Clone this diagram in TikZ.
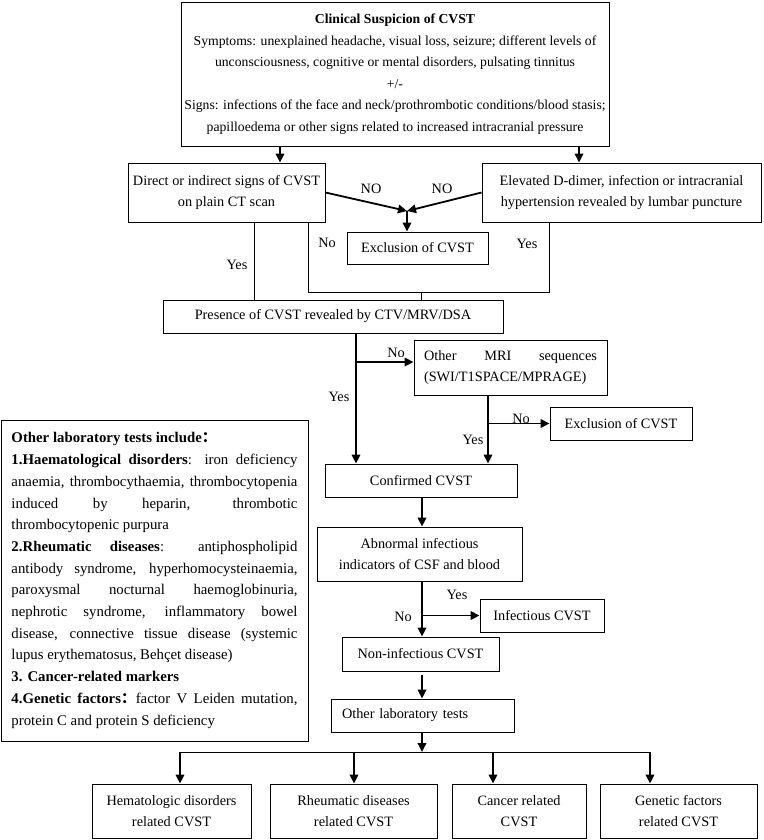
\documentclass[tikz,border=0pt]{standalone}
\usepackage{fontspec}
\setmainfont{Liberation Serif}
\newfontfamily\cjkfont{Noto Sans CJK SC}
\usetikzlibrary{arrows.meta}
\begin{document}
\begin{tikzpicture}[x=1pt,y=-1pt,
  box/.style={draw=black, line width=0.9pt, inner sep=0pt, align=center,
    font=\fontsize{14.3}{21.5}\selectfont},
  thinline/.style={line width=0.9pt},
  arr/.style={line width=1.8pt, -{Triangle[length=9pt,width=8.5pt]}},
  lbl/.style={font=\fontsize{14.3}{16}\selectfont, inner sep=0pt}]
\useasboundingbox (0,0) rectangle (763,840);
\fill[white] (0,0) rectangle (763,840);

% boxes
\node[box, minimum width=428pt, minimum height=144pt, font=\fontsize{13.7}{21.5}\selectfont] (top) at (395,74)
 {\textbf{Clinical Suspicion of CVST}\\
  Symptoms: unexplained headache, visual loss, seizure; different levels of\\
  unconsciousness, cognitive or mental disorders, pulsating tinnitus\\
  +/-\\
  Signs: infections of the face and neck/prothrombotic conditions/blood stasis;\\
  papilloedema or other signs related to increased intracranial pressure};
\node[box, minimum width=197pt, minimum height=59pt] (ct) at (226.5,192.5)
 {Direct or indirect signs of CVST\\on plain CT scan};
\node[box, minimum width=279pt, minimum height=59pt] (dd) at (621.5,192.5)
 {Elevated D-dimer, infection or intracranial\\hypertension revealed by lumbar puncture};
\node[box, minimum width=141pt, minimum height=32pt] (ex1) at (417.5,248) {Exclusion of CVST};
\node[box, minimum width=340pt, minimum height=33pt] (pres) at (333,316.5) {Presence of CVST revealed by CTV/MRV/DSA};
\node[box, minimum width=193pt, minimum height=55pt, text width=173pt, align=justify] (mri) at (510.5,367.5)
 {Other MRI sequences\linebreak (SWI/T1SPACE/MPRAGE)};
\node[box, minimum width=142pt, minimum height=33pt] (ex2) at (621,423.5) {Exclusion of CVST};
\node[box, minimum width=192pt, minimum height=33pt] (conf) at (421,480.5) {Confirmed CVST};
\node[box, minimum width=205pt, minimum height=54pt] (abn) at (419.5,554)
 {Abnormal infectious\\indicators of CSF and blood};
\node[box, minimum width=124pt, minimum height=33pt] (inf) at (542,615.5) {Infectious CVST};
\node[box, minimum width=157pt, minimum height=34pt] (noninf) at (420.5,654) {Non-infectious CVST};
\node[box, minimum width=183pt, minimum height=33pt, text width=161pt, inner xsep=11pt, align=left] (other) at (422.5,715.5)
 {Other laboratory tests};
\node[box, minimum width=159pt, minimum height=54pt] (hem) at (171.5,811) {Hematologic disorders\\related CVST};
\node[box, minimum width=167pt, minimum height=54pt] (rheu) at (353.5,811) {Rheumatic diseases\\related CVST};
\node[box, minimum width=134pt, minimum height=54pt] (canc) at (519,811) {Cancer related\\CVST};
\node[box, minimum width=157pt, minimum height=54pt] (gen) at (678.5,811) {Genetic factors\\related CVST};

\node[box, minimum width=307pt, minimum height=321pt, text width=286pt, align=justify,
  font=\fontsize{14.8}{21.7}\selectfont] (lab) at (154.5,580.5)
 {\parindent=0pt\parskip=0pt\emergencystretch=0pt
  \textbf{Other laboratory tests include{\cjkfont ：}}\par
  \textbf{1.Haematological disorders}: iron deficiency\linebreak
  anaemia, thrombocythaemia, thrombocytopenia\linebreak
  induced by heparin, thrombotic\linebreak
  thrombocytopenic purpura\par
  \textbf{2.Rheumatic diseases}: antiphospholipid\linebreak
  antibody syndrome, hyperhomocysteinaemia,\linebreak
  paroxysmal nocturnal haemoglobinuria,\linebreak
  nephrotic syndrome, inflammatory bowel\linebreak
  disease, connective tissue disease (systemic\linebreak
  lupus erythematosus, Behçet disease)\par
  \textbf{3. Cancer-related markers}\par
  \textbf{4.Genetic factors{\cjkfont ：}}factor V Leiden mutation,\linebreak
  protein C and protein S deficiency\par};

% helper coordinates
\coordinate (xL) at (280,0);
\coordinate (xR) at (579,0);
\coordinate (xYes) at (254,0);
\coordinate (xNo) at (308,0);
\coordinate (xYesR) at (549,0);
\coordinate (xMid) at (421,0);
\coordinate (xP) at (356,0);
\coordinate (xM) at (488,0);
\coordinate (xC) at (422,0);
\coordinate (meet) at (407,211);
\coordinate (loopy) at (0,292);
\coordinate (nb1) at (0,362);
\coordinate (bus) at (0,752);
\coordinate (xb1) at (180,0);
\coordinate (xb2) at (354,0);
\coordinate (xb3) at (493,0);
\coordinate (xb4) at (650,0);

% connectors
\draw[arr] (top.south -| xL) -- (ct.north -| xL);
\draw[arr] (top.south -| xR) -- (dd.north -| xR);
\draw[arr] (ct.east) -- (meet);
\draw[arr] (dd.west) -- (meet);
\draw[arr] (meet) -- (ex1.north -| meet);
\draw[thinline] (ct.south -| xYes) -- (pres.north -| xYes);
\draw[thinline] (ct.south -| xNo) -- (xNo |- loopy) -- (xYesR |- loopy) -- (dd.south -| xYesR);
\draw[thinline] (xMid |- loopy) -- (pres.north -| xMid);
\draw[arr] (pres.south -| xP) -- (conf.north -| xP);
\draw[arr] (xP |- nb1) -- (mri.west |- nb1);
\draw[arr] (mri.south -| xM) -- (conf.north -| xM);
\draw[arr] (xM |- ex2.west) -- (ex2.west);
\draw[arr] (conf.south -| xC) -- (abn.north -| xC);
\draw[arr] (abn.south -| xC) -- (noninf.north -| xC);
\draw[arr] (xC |- inf.west) -- (inf.west);
\draw[arr] ([yshift=-4pt]noninf.south -| xC) -- (other.north -| xC);
\draw[arr] (other.south -| xC) -- (xC |- bus);
\draw[thinline] (xb1 |- bus) -- (xb4 |- bus);
\draw[arr] (xb1 |- bus) -- (hem.north -| xb1);
\draw[arr] (xb2 |- bus) -- (rheu.north -| xb2);
\draw[arr] (xb3 |- bus) -- (canc.north -| xb3);
\draw[arr] (xb4 |- bus) -- (gen.north -| xb4);

% labels
\node[lbl] (l1) at (371,189) {NO};
\node[lbl] (l2) at (442,189) {NO};
\node[lbl] (l3) at (237,265) {Yes};
\node[lbl] (l4) at (327,243) {No};
\node[lbl] (l5) at (527,244) {Yes};
\node[lbl] (l6) at (396,353) {No};
\node[lbl] (l7) at (339,397) {Yes};
\node[lbl] (l8) at (521,419) {No};
\node[lbl] (l9) at (473,440) {Yes};
\node[lbl] (l10) at (457,595) {Yes};
\node[lbl] (l11) at (403,617) {No};
\end{tikzpicture}
\end{document}
